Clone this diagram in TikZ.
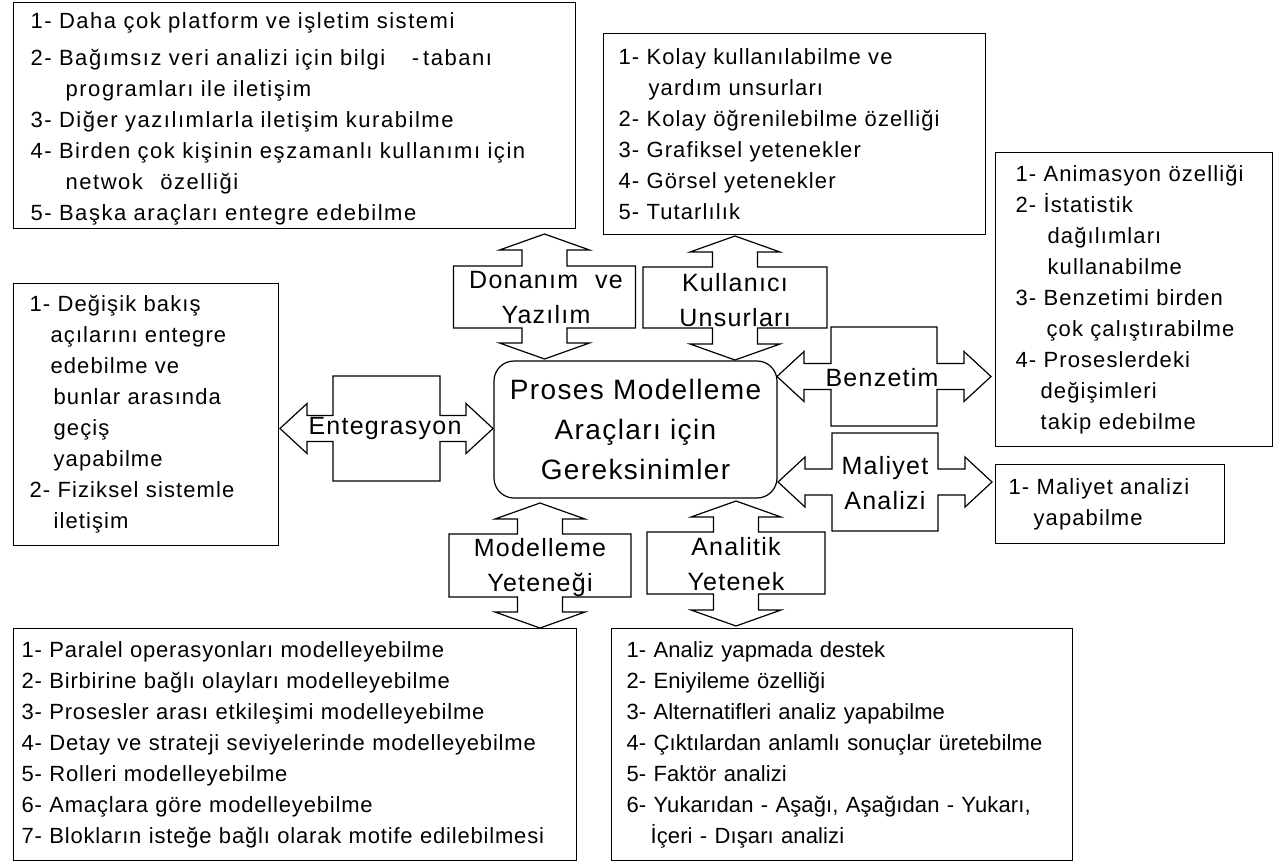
\documentclass[tikz,border=0pt]{standalone}
\usepackage{fontspec}
\setmainfont{Liberation Sans}
\newfontfamily\lsp[LetterSpace=5]{Liberation Sans}
\newfontfamily\lspw[LetterSpace=7]{Liberation Sans}
\newfontfamily\lspm[LetterSpace=3.75]{Liberation Sans}
\newfontfamily\lspn[LetterSpace=0.5]{Liberation Sans}
\newcommand{\vdarr}[6]{% cx, tipTop, boxTop, boxBot, tipBot, boxHalfW
  \draw[blk] (#1,#2) -- ({#1+45},{#2+16}) -- ({#1+22.5},{#2+16}) -- ({#1+22.5},#3)
    -- ({#1+#6},#3) -- ({#1+#6},#4) -- ({#1+22.5},#4) -- ({#1+22.5},{#5-16})
    -- ({#1+45},{#5-16}) -- (#1,#5) -- ({#1-45},{#5-16}) -- ({#1-22.5},{#5-16})
    -- ({#1-22.5},#4) -- ({#1-#6},#4) -- ({#1-#6},#3) -- ({#1-22.5},#3)
    -- ({#1-22.5},{#2+16}) -- ({#1-45},{#2+16}) -- cycle;}
\newcommand{\hdarr}[6]{% cy, tipLeft, boxLeft, boxRight, tipRight, boxHalfH
  \draw[blk] (#2,#1) -- ({#2+27},{#1-25}) -- ({#2+27},{#1-13}) -- (#3,{#1-13})
    -- (#3,{#1-#6}) -- (#4,{#1-#6}) -- (#4,{#1-13}) -- ({#5-27},{#1-13})
    -- ({#5-27},{#1-25}) -- (#5,#1) -- ({#5-27},{#1+25}) -- ({#5-27},{#1+13})
    -- (#4,{#1+13}) -- (#4,{#1+#6}) -- (#3,{#1+#6}) -- (#3,{#1+13})
    -- ({#2+27},{#1+13}) -- ({#2+27},{#1+25}) -- cycle;}
\tikzset{
  blk/.style={draw, line width=1.2pt, line join=miter},
  tbox/.style={draw, line width=1.2pt, rectangle, align=left, inner ysep=0pt,
    anchor=north west, font=\lsp\fontsize{22}{31}\selectfont},
  lbl/.style={align=center, inner sep=0pt, font=\lsp\fontsize{25}{35}\selectfont},
  central/.style={draw, line width=1.2pt, rounded corners=20pt, align=center,
    inner sep=0pt, font=\lsp\fontsize{28}{40}\selectfont},
}
\begin{document}
\begin{tikzpicture}[x=1pt,y=-1pt]
\useasboundingbox (0,0) rectangle (1282,865);

% block double arrows
\vdarr{544.5}{234}{266}{328}{359}{91}
\vdarr{735}{236}{267}{328}{360}{92}
\vdarr{540}{503}{534}{597}{628}{91}
\vdarr{736}{501}{532}{594}{626}{89}
\hdarr{428.5}{280}{333}{440}{493}{52.5}
\hdarr{376.5}{777}{831}{937}{991}{49.5}
\hdarr{482}{778}{832}{938}{992}{49}

% central node
\node[central, minimum width=283pt, minimum height=137pt] (req) at (635.5,429.5)
  {Proses Modelleme\\Araçları için\\Gereksinimler};

% arrow labels
\node[lbl] (dy) at (546,298) {Donanım\hspace{17pt}ve\\Yazılım};
\node[lbl] (ku) at (735,300) {Kullanıcı\\Unsurları};
\node[lbl] (en) at (385,428) {Entegrasyon};
\node[lbl] (bz) at (882,378) {Benzetim};
\node[lbl] (ma) at (885,483) {Maliyet\\Analizi};
\node[lbl] (mo) at (540,568) {Modelleme\\Yeteneği};
\node[lbl] (an) at (736,564) {Analitik\\Yetenek};

% text boxes
\node[tbox, font=\lspw\fontsize{22}{31}\selectfont, minimum width=562pt, minimum height=226pt, inner xsep=17pt, text width=528pt] (hwbox) at (13,2)
  {\rule{0pt}{22pt}1- Daha çok platform ve işletim sistemi\\[6pt]
   2- Bağımsız veri analizi için bilgi\hspace{1.2em}-\hspace{4pt}tabanı\\
   \hspace*{35pt}programları ile iletişim\\
   3- Diğer yazılımlarla iletişim kurabilme\\
   4- Birden çok kişinin eşzamanlı kullanımı için\\
   \hspace*{35pt}netwok\hspace{10pt} özelliği\\
   5- Başka araçları entegre edebilme};

\node[tbox, minimum width=382pt, minimum height=201pt, inner xsep=15pt, text width=352pt] (kubox) at (603,33)
  {1- Kolay kullanılabilme ve\\
   \hspace*{30pt}yardım unsurları\\
   2- Kolay öğrenilebilme özelliği\\
   3- Grafiksel yetenekler\\
   4- Görsel yetenekler\\
   5- Tutarlılık};

\node[tbox, minimum width=277pt, minimum height=294pt, inner xsep=20pt, text width=237pt] (bzbox) at (995,152)
  {1- Animasyon özelliği\\
   2- İstatistik\\
   \hspace*{32pt}dağılımları\\
   \hspace*{32pt}kullanabilme\\
   3- Benzetimi birden\\
   \hspace*{31pt}çok çalıştırabilme\\
   4- Proseslerdeki\\
   \hspace*{25pt}değişimleri\\
   \hspace*{25pt}takip edebilme};

\node[tbox, minimum width=265pt, minimum height=262pt, inner xsep=16pt, text width=233pt] (enbox) at (13,283)
  {1- Değişik bakış\\
   \hspace*{21pt}açılarını entegre\\
   \hspace*{21pt}edebilme ve\\
   \hspace*{24pt}bunlar arasında\\
   \hspace*{24pt}geçiş\\
   \hspace*{24pt}yapabilme\\
   2- Fiziksel sistemle\\
   \hspace*{24pt}iletişim};

\node[tbox, minimum width=229pt, minimum height=79pt, inner xsep=13pt, text width=203pt] (mabox) at (995,464)
  {1- Maliyet analizi\\
   \hspace*{25pt}yapabilme};

\node[tbox, font=\lspm\fontsize{22}{31}\selectfont, minimum width=563pt, minimum height=232pt, inner xsep=8pt, text width=547pt] (mobox) at (13,628)
  {1- Paralel operasyonları modelleyebilme\\
   2- Birbirine bağlı olayları modelleyebilme\\
   3- Prosesler arası etkileşimi modelleyebilme\\
   4- Detay ve strateji seviyelerinde modelleyebilme\\
   5- Rolleri modelleyebilme\\
   6- Amaçlara göre modelleyebilme\\
   7- Blokların isteğe bağlı olarak motife edilebilmesi};

\node[tbox, font=\lspn\fontsize{22}{31}\selectfont, minimum width=461pt, minimum height=232pt, inner xsep=15pt, text width=431pt] (anbox) at (611,628)
  {1- Analiz yapmada destek\\
   2- Eniyileme özelliği\\
   3- Alternatifleri analiz yapabilme\\
   4- Çıktılardan anlamlı sonuçlar üretebilme\\
   5- Faktör analizi\\
   6- Yukarıdan - Aşağı, Aşağıdan - Yukarı,\\
   \hspace*{24pt}İçeri - Dışarı analizi};
\end{tikzpicture}
\end{document}
